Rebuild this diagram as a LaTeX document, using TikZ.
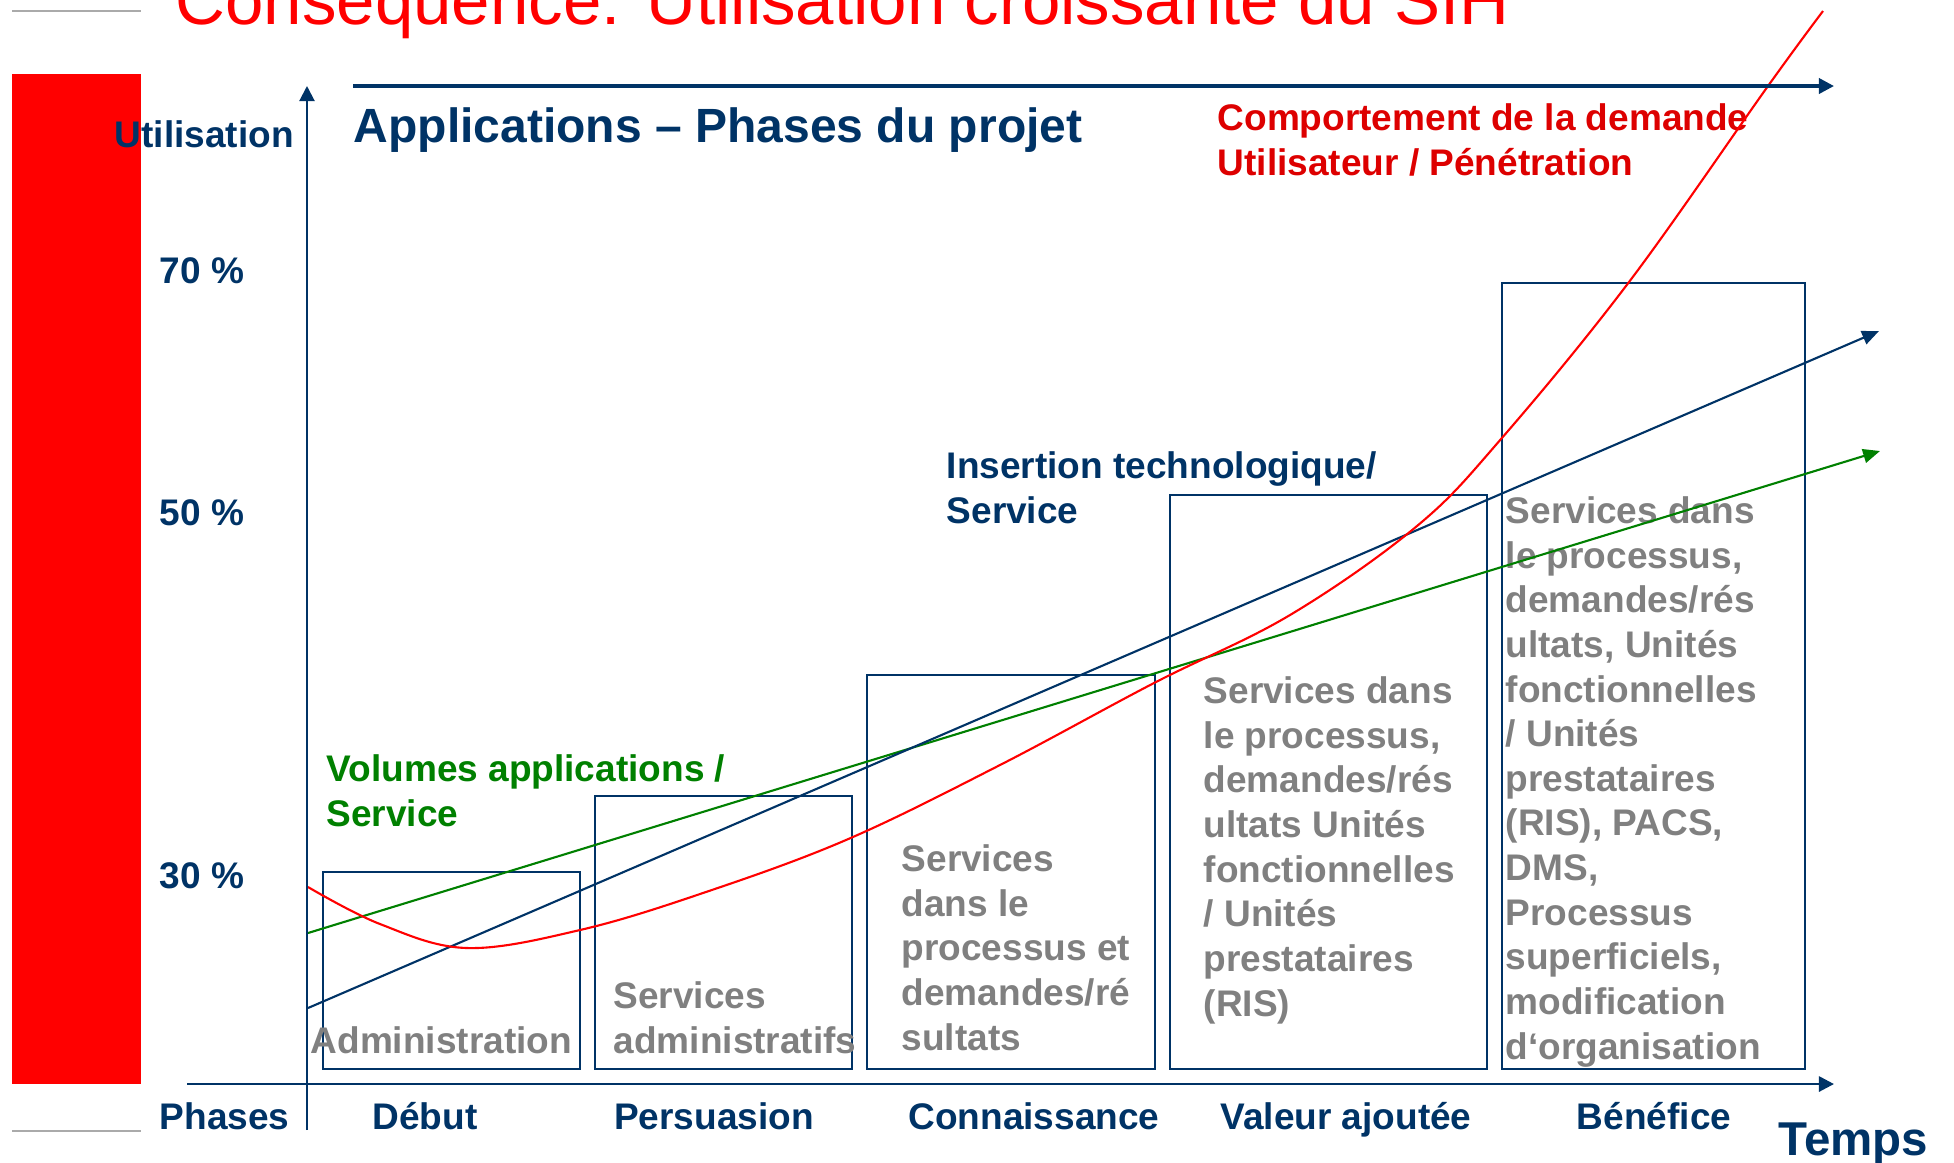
\documentclass[tikz,border=0pt]{standalone}
\usepackage{fontspec}
\setmainfont{Liberation Sans}
\usetikzlibrary{arrows.meta}
\definecolor{navy}{RGB}{0,51,102}
\definecolor{txtgrey}{RGB}{128,128,128}
\definecolor{dred}{RGB}{221,0,0}
\definecolor{lgreen}{RGB}{0,128,0}
\definecolor{lgrey}{RGB}{170,170,170}
\begin{document}
\begin{tikzpicture}[x=0.01cm,y=-0.01cm,
  lbl/.style={inner sep=0pt, anchor=base west, align=left,
    font=\fontsize{10.53}{12.69}\selectfont\bfseries},
  phase/.style={inner sep=0pt, anchor=base,
    font=\fontsize{10.53}{12.69}\selectfont\bfseries, text=navy},
  boxtxt/.style={lbl, text=txtgrey},
  phasebox/.style={draw=navy, line width=0.6pt},
  axis/.style={draw=navy, line width=0.8pt, -{Triangle[length=4.3pt,width=4.3pt]}},
  trend/.style={line width=0.6pt, -{Triangle[length=4.8pt,width=4pt]}}
]
\useasboundingbox (0,0) rectangle (1954,1162);
\clip (0,0) rectangle (1954,1162);

% red side bar and grey rules
\fill[red] (12,74) rectangle (141,1084);
\draw[lgrey, line width=0.8pt] (12,11) -- (141,11);
\draw[lgrey, line width=0.8pt] (12,1131) -- (141,1131);

% title
\node[inner sep=0pt, anchor=base west, text=red,
  font=\fontsize{19.63}{23}\selectfont] (title) at (175,24)
  {Conséquence: Utilisation croissante du SIH};

% phase boxes
\draw[phasebox] (323,872) rectangle (580,1069);
\draw[phasebox] (595,796) rectangle (852,1069);
\draw[phasebox] (867,675) rectangle (1155,1069);
\draw[phasebox] (1170,495) rectangle (1487,1069);
\draw[phasebox] (1502,283) rectangle (1805,1069);

% box texts (anchor = baseline of the last line)
\node[boxtxt] (t1) at (310,1053) {Administration};
\node[boxtxt] (t2) at (613,1053) {Services\\administratifs};
\node[boxtxt] (t3) at (901,1050) {Services\\dans le\\processus et\\demandes/ré\\sultats};
\node[boxtxt] (t4) at (1203,1016) {Services dans\\le processus,\\demandes/rés\\ultats Unités\\fonctionnelles\\/ Unités\\prestataires\\(RIS)};
\node[boxtxt] (t5) at (1505,1059) {Services dans\\le processus,\\demandes/rés\\ultats, Unités\\fonctionnelles\\/ Unités\\prestataires\\(RIS), PACS,\\DMS,\\Processus\\superficiels,\\modification\\d‘organisation};

% labels
\node[lbl, text=navy] (util) at (114,147) {Utilisation};
\node[inner sep=0pt, anchor=base west, text=navy,
  font=\fontsize{13.66}{16}\selectfont\bfseries] (app) at (353,142)
  {Applications – Phases du projet};
\node[lbl, text=dred] (comp) at (1217,175) {Comportement de la demande\\Utilisateur / Pénétration};
\node[lbl, text=navy] (ins) at (946,523) {Insertion technologique/\\Service};
\node[lbl, text=lgreen] (vol) at (326,826) {Volumes applications /\\Service};
\node[lbl, text=navy] (p70) at (159,283) {70 \%};
\node[lbl, text=navy] (p50) at (159,525) {50 \%};
\node[lbl, text=navy] (p30) at (159,888) {30 \%};
\node[lbl, text=navy] (phases) at (159,1129) {Phases};
\node[phase] (debut) at (425,1129) {Début};
\node[phase] (pers) at (714,1129) {Persuasion};
\node[phase] (conn) at (1034,1129) {Connaissance};
\node[phase] (val) at (1346,1129) {Valeur ajoutée};
\node[phase] (ben) at (1654,1129) {Bénéfice};
\node[inner sep=0pt, anchor=base west, text=navy,
  font=\fontsize{13.5}{16}\selectfont\bfseries] (temps) at (1778,1155) {Temps};

% trend lines
\coordinate (gs) at (308,933);
\coordinate (ge) at (1880,451);
\coordinate (bs) at (308,1008);
\coordinate (be) at (1879,331);
\draw[trend, lgreen] (gs) -- (ge);
\draw[trend, navy] (bs) -- (be);
\draw[red, line width=0.6pt] plot[smooth, tension=0.6] coordinates {
  (308,887) (380,924) (467,948) (580,930) (700,894) (846,840) (1000,765)
  (1154,683) (1290,615) (1417,526) (1501,439)
  (1629,282) (1768,86) (1823,11)};

% axes
\coordinate (yb) at (307,1130);
\coordinate (yt) at (307,86);
\coordinate (xl) at (187,1084);
\coordinate (xr) at (1834,1084);
\coordinate (tl) at (353,86);
\coordinate (tr) at (1834,86);
\draw[axis, line width=0.6pt] (yb) -- (yt);
\draw[axis] (xl) -- (xr);
\draw[axis, line width=1pt] (tl) -- (tr);
\end{tikzpicture}
\end{document}
